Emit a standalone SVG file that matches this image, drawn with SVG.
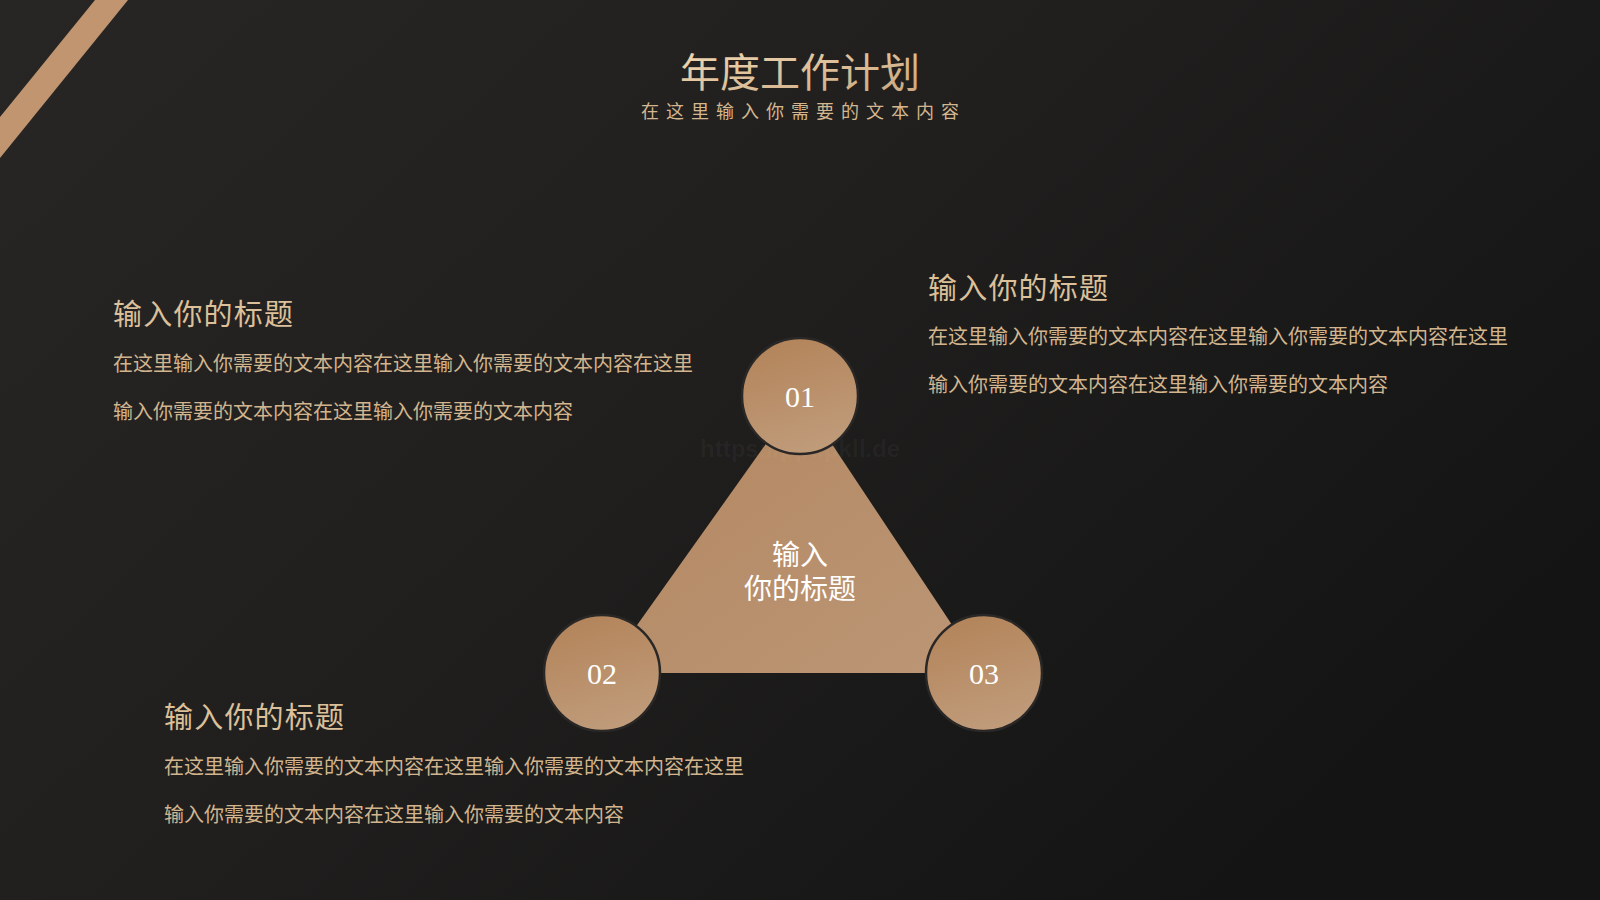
<svg xmlns="http://www.w3.org/2000/svg" width="1600" height="900" viewBox="0 0 1600 900">
<defs>
<linearGradient id="bg" x1="0" y1="0" x2="1" y2="0.6">
<stop offset="0" stop-color="#272625"/>
<stop offset="0.5" stop-color="#201f1e"/>
<stop offset="1" stop-color="#141414"/>
</linearGradient>
<linearGradient id="gold" x1="0" y1="0" x2="1" y2="1">
<stop offset="0" stop-color="#f2dcb8"/>
<stop offset="1" stop-color="#c9a47c"/>
</linearGradient>
<linearGradient id="circ" x1="0.3" y1="0" x2="0.6" y2="1">
<stop offset="0" stop-color="#b3845a"/>
<stop offset="1" stop-color="#c09c7b"/>
</linearGradient>
<linearGradient id="tri" x1="0" y1="0" x2="1" y2="1">
<stop offset="0" stop-color="#b48760"/>
<stop offset="1" stop-color="#bb9676"/>
</linearGradient>
<style>
.cjk{font-family:"Noto Sans CJK SC","Noto Sans",sans-serif;}
.title{font-size:40px;fill:url(#gold);}
.sub{font-size:18px;fill:#d4b68f;letter-spacing:7px;}
.head{font-size:29px;fill:#dcc09a;letter-spacing:1.2px;}
.body{font-size:20px;fill:#d2b58e;}
.num{font-family:"Liberation Serif",serif;font-size:30px;fill:#ffffff;}
.ctr{font-size:28px;fill:#ffffff;}
.c{fill:url(#circ);stroke:#2a2827;stroke-width:2.5;}
</style>
</defs>
<rect width="1600" height="900" fill="url(#bg)"/>
<polygon points="95,0 128,0 0,158 0,117" fill="#c09570"/>

<g id="header">
<text class="cjk title" x="680" y="70" dominant-baseline="central">年度工作计划</text>
<text class="cjk sub" x="641" y="110" dominant-baseline="central">在这里输入你需要的文本内容</text>
</g>

<g id="connectors">
<polygon id="triangle" points="800,396 603,673 984,673" fill="url(#tri)"/>
</g>

<text x="800" y="448" text-anchor="middle" dominant-baseline="central" font-family="Liberation Sans, sans-serif" font-size="24" font-weight="bold" fill="#ffffff" fill-opacity="0.04">https://ppt.pkll.de</text>

<g id="center-label">
<text class="cjk ctr" text-anchor="middle"><tspan x="800" y="565">输入</tspan><tspan x="800" y="599">你的标题</tspan></text>
</g>

<g id="node-01">
<circle class="c" cx="800" cy="396" r="58"/>
<text class="num" x="800" y="407" text-anchor="middle">01</text>
</g>
<g id="node-02">
<circle class="c" cx="602" cy="673" r="58"/>
<text class="num" x="602" y="684" text-anchor="middle">02</text>
</g>
<g id="node-03">
<circle class="c" cx="984" cy="673" r="58"/>
<text class="num" x="984" y="684" text-anchor="middle">03</text>
</g>

<g id="text-left">
<text class="cjk head" x="113" y="312" dominant-baseline="central">输入你的标题</text>
<text class="cjk body" x="113" y="362" dominant-baseline="central">在这里输入你需要的文本内容在这里输入你需要的文本内容在这里</text>
<text class="cjk body" x="113" y="410" dominant-baseline="central">输入你需要的文本内容在这里输入你需要的文本内容</text>
</g>
<g id="text-right">
<text class="cjk head" x="928" y="286" dominant-baseline="central">输入你的标题</text>
<text class="cjk body" x="928" y="335" dominant-baseline="central">在这里输入你需要的文本内容在这里输入你需要的文本内容在这里</text>
<text class="cjk body" x="928" y="383" dominant-baseline="central">输入你需要的文本内容在这里输入你需要的文本内容</text>
</g>
<g id="text-bottom">
<text class="cjk head" x="164" y="715" dominant-baseline="central">输入你的标题</text>
<text class="cjk body" x="164" y="765" dominant-baseline="central">在这里输入你需要的文本内容在这里输入你需要的文本内容在这里</text>
<text class="cjk body" x="164" y="813" dominant-baseline="central">输入你需要的文本内容在这里输入你需要的文本内容</text>
</g>
</svg>
